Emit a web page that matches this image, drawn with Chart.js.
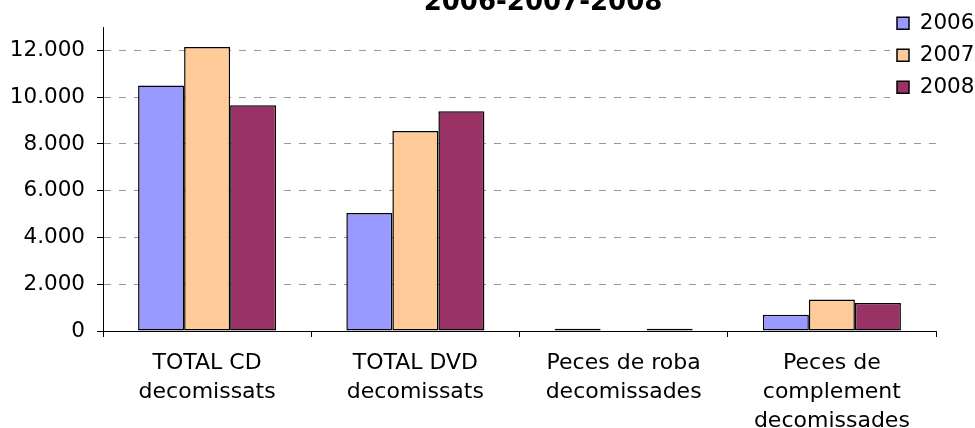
<!DOCTYPE html>
<html>
<head>
<meta charset="utf-8">
<script src="https://cdn.jsdelivr.net/npm/chart.js@4"></script>
<style>
  body { margin: 0; background: #fff; }
  canvas { display: block; }
</style>
</head>
<body>
<canvas id="grafic" width="975" height="428"></canvas>
<script>
// dades del grafic
const titol = '2006-2007-2008';
const categories = [
    ['TOTAL CD', 'decomissats'],
    ['TOTAL DVD', 'decomissats'],
    ['Peces de roba', 'decomissades'],
    ['Peces de', 'complement', 'decomissades']
];
const anys = ['2006', '2007', '2008'];
const valors2006 = [10500, 5050, 100, 700];
const valors2007 = [12150, 8550, 0, 1350];
const valors2008 = [9650, 9400, 100, 1200];
const colors = ['#9999FF', '#FFCC99', '#993366'];
const ticksY = [0, 2000, 4000, 6000, 8000, 10000, 12000];
const maxY = 13000;

const separadorMilers = v => String(v).replace(/\B(?=(\d{3})+(?!\d))/g, '.');

Chart.defaults.font.family = "'DejaVu Sans', Verdana, sans-serif";
Chart.defaults.font.size = 21.5;
Chart.defaults.color = '#000';

// titol retallat a dalt, com a l'original
const titolPlugin = {
    id: 'titolPlugin',
    afterDraw(chart) {
        const ctx = chart.ctx;
        ctx.save();
        ctx.font = "bold 26px 'DejaVu Sans', Verdana, sans-serif";
        ctx.fillStyle = '#000';
        ctx.textAlign = 'center';
        ctx.textBaseline = 'alphabetic';
        ctx.fillText(titol, 543, 10);
        ctx.restore();
    }
};

// la llegenda flota a dalt a la dreta, sobre la zona del grafic, amb fons blanc
const llegendaPlugin = {
    id: 'llegendaPlugin',
    afterLayout(chart) {
        const lg = chart.legend;
        lg.left = 886.5;
        lg.right = lg.left + lg.width;
        lg.top = 2;
        lg.bottom = lg.top + 200;
    },
    beforeDatasetsDraw(chart) {
        const lg = chart.legend;
        const ctx = chart.ctx;
        ctx.save();
        ctx.fillStyle = '#fff';
        ctx.fillRect(890, lg.top, chart.width - 890, 10 + anys.length * 32);
        ctx.restore();
        lg.draw(chart.chartArea);
    }
};

const ctx = document.getElementById('grafic').getContext('2d');
new Chart(ctx, {
    type: 'bar',
    data: {
        labels: categories,
        datasets: [
            { label: anys[0], data: valors2006, backgroundColor: colors[0], borderColor: '#000', borderWidth: 1.5, borderSkipped: false },
            { label: anys[1], data: valors2007, backgroundColor: colors[1], borderColor: '#000', borderWidth: 1.5, borderSkipped: false },
            { label: anys[2], data: valors2008, backgroundColor: colors[2], borderColor: '#000', borderWidth: 1.5, borderSkipped: false }
        ]
    },
    options: {
        responsive: false,
        animation: false,
        categoryPercentage: 0.663,
        barPercentage: 1,
        layout: { padding: { top: 27, right: 39, left: 0, bottom: 0 } },
        plugins: {
            title: { display: false },
            tooltip: { enabled: false },
            legend: {
                position: 'chartArea',
                align: 'start',
                labels: { boxWidth: 12, boxHeight: 12, padding: 10.5, font: { size: 21.5 }, color: '#000' }
            }
        },
        scales: {
            x: {
                grid: { offset: true, drawOnChartArea: false, drawTicks: true, tickLength: 6, tickColor: '#000' },
                border: { color: '#000', width: 1 },
                ticks: { maxRotation: 0, autoSkip: false, padding: 12, font: { size: 22, lineHeight: 1.32 } },
                afterFit: s => { s.height = 97; }
            },
            y: {
                min: 0,
                max: maxY,
                grid: {
                    color: c => (c.tick && c.tick.value === 0 ? 'rgba(0,0,0,0)' : '#999'),
                    tickLength: 6,
                    tickColor: '#000'
                },
                border: { color: '#000', width: 1, dash: [7, 8] },
                ticks: { padding: 12, font: { size: 21.5 }, callback: v => separadorMilers(v) },
                afterBuildTicks: s => { s.ticks = ticksY.map(v => ({ value: v })); },
                afterFit: s => { s.width = 103; }
            }
        }
    },
    plugins: [titolPlugin, llegendaPlugin]
});
</script>
</body>
</html>
